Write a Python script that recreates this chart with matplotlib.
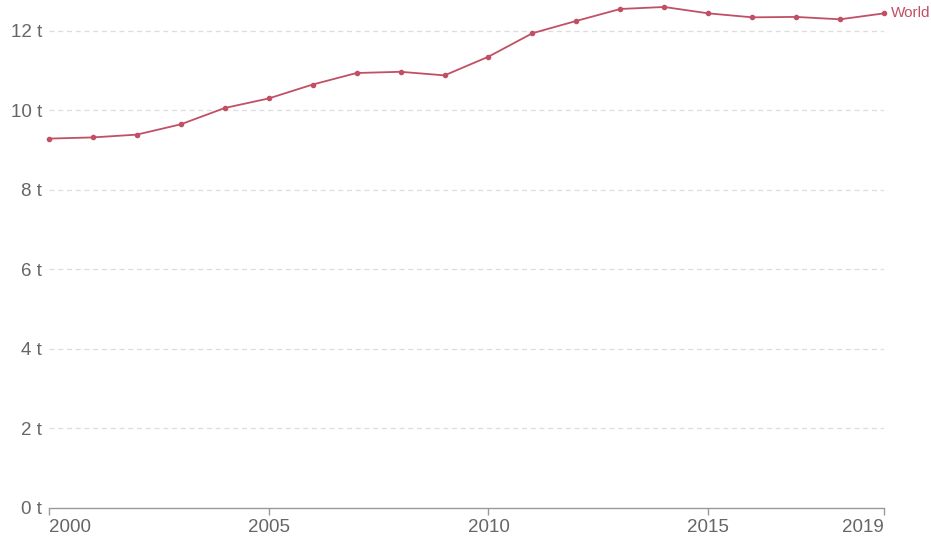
#!/usr/bin/env python3

import matplotlib
matplotlib.use("Agg")
import matplotlib.pyplot as plt

years = list(range(2000, 2020))
world = [9.29, 9.32, 9.39, 9.65, 10.06, 10.30, 10.65, 10.94, 10.97, 10.88,
         11.35, 11.94, 12.25, 12.55, 12.60, 12.44, 12.34, 12.35, 12.29, 12.44]
yticks = [0, 2, 4, 6, 8, 10, 12]
xticks = [2000, 2005, 2010, 2015, 2019]

LINE = "#c15065"
TEXT = "#666666"

plt.rcParams["font.family"] = ["Liberation Sans", "DejaVu Sans"]


def main():
    fig = plt.figure(figsize=(9.31, 5.41), dpi=100)
    ax = fig.add_axes([49 / 931, 33 / 541, 835 / 931, 503 / 541])

    ax.plot(years, world, color=LINE, lw=1.3, marker="o", ms=3.0,
            clip_on=False, zorder=3)
    ax.annotate("World", (years[-1], world[-1]), xytext=(5, 0),
                textcoords="offset points", color=LINE, fontsize=11,
                va="center", ha="left", annotation_clip=False)

    ax.set_xlim(2000, 2019)
    ax.set_ylim(0, 12.65)

    ax.set_yticks(yticks)
    ax.set_yticklabels([f"{v} t" for v in yticks])
    ax.set_xticks(xticks)
    ax.set_xticklabels([str(x) for x in xticks])
    labels = ax.get_xticklabels()
    labels[0].set_horizontalalignment("left")
    labels[-1].set_horizontalalignment("right")

    ax.tick_params(axis="y", length=0, pad=5, labelsize=13.5, labelcolor=TEXT)
    ax.tick_params(axis="x", length=5, width=1, color="#999999", pad=3,
                   labelsize=13.5, labelcolor=TEXT)

    for y in yticks[1:]:
        ax.axhline(y, color="#dddddd", lw=0.9, ls=(0, (4, 3)), zorder=0)

    for side in ["top", "right", "left"]:
        ax.spines[side].set_visible(False)
    ax.spines["bottom"].set_color("#999999")
    ax.spines["bottom"].set_linewidth(1)

    fig.savefig("out.png", dpi=100)


if __name__ == "__main__":
    main()
